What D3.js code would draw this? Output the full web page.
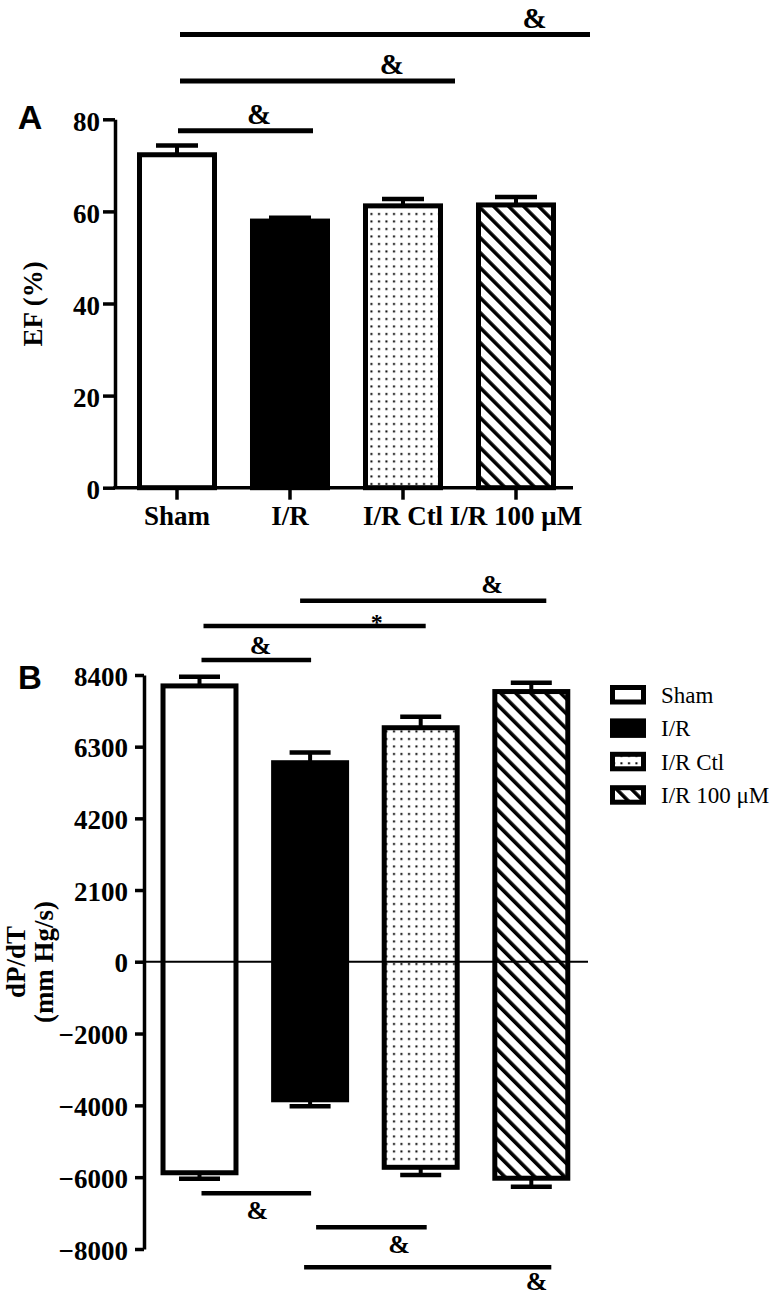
<!DOCTYPE html>
<html><head><meta charset="utf-8">
<script src="https://cdn.jsdelivr.net/npm/d3@7"></script>
<style>body{margin:0;background:#fff}svg{display:block}</style>
</head><body>
<svg id="chart" width="777" height="1295"></svg>
<script>
// ---------- data ----------
const categories = ["Sham", "I/R", "I/R Ctl", "I/R 100 μM"];
const efMean = [72.3, 57.9, 61.2, 61.4];
const efSem = [2.0, 0.7, 1.5, 1.7];
const efTicks = [0, 20, 40, 60, 80];
const dpPosMean = [8080, 5830, 6855, 7915];
const dpPosSem = [267, 300, 323, 257];
const dpNegMean = [-5877, -3845, -5725, -6029];
const dpNegSem = [170, 182, 215, 237];
const dpTicks = [8400, 6300, 4200, 2100, 0, -2000, -4000, -6000, -8000];
const fills = ["#fff", "#000", "url(#dots)", "url(#hatch)"];
const sigA = [
  {from: "Sham", to: "I/R 100 μM", y: 98.4, label: "&", at: 0.865, dx0: 3, dx1: 74},
  {from: "Sham", to: "I/R Ctl", y: 88.3, label: "&", at: 0.77, dx0: 3, dx1: 52},
  {from: "Sham", to: "I/R", y: 77.5, label: "&", at: 0.6, dx0: 1, dx1: 23}
];
const sigB = [
  {from: "I/R", to: "I/R 100 μM", y: 10576, label: "&", at: 0.78, dx0: -10, dx1: 15, ly: -8},
  {from: "Sham", to: "I/R Ctl", y: 9834, label: "*", at: 0.78, dx0: 4, dx1: 5, ly: 4},
  {from: "Sham", to: "I/R", y: 8838, label: "&", at: 0.54, dx0: 2, dx1: 1, ly: -6},
  {from: "Sham", to: "I/R", y: -6449, label: "&", at: 0.51, dx0: 2, dx1: 1, ly: 26},
  {from: "I/R", to: "I/R Ctl", y: -7396, label: "&", at: 0.75, dx0: 6, dx1: 6, ly: 26},
  {from: "I/R", to: "I/R 100 μM", y: -8510, label: "&", at: 0.94, dx0: -6, dx1: 20, ly: 23}
];

const SERIF = "'Liberation Serif','Times New Roman',serif";
const SANS = "'Liberation Sans',Arial,sans-serif";
const svg = d3.select("#chart");
svg.append("rect").attr("width", 777).attr("height", 1295).attr("fill", "#fff");

// ---------- patterns ----------
const defs = svg.append("defs");
const dots = defs.append("pattern").attr("id", "dots").attr("patternUnits", "userSpaceOnUse")
  .attr("width", 7.5).attr("height", 7.5);
dots.append("rect").attr("width", 7.5).attr("height", 7.5).attr("fill", "#fff");
dots.append("rect").attr("x", 3).attr("y", 3).attr("width", 2).attr("height", 2).attr("fill", "#000");
const hatch = defs.append("pattern").attr("id", "hatch").attr("patternUnits", "userSpaceOnUse")
  .attr("width", 10.6).attr("height", 10.6).attr("patternTransform", "rotate(-45)");
hatch.append("rect").attr("width", 10.6).attr("height", 10.6).attr("fill", "#fff");
hatch.append("rect").attr("x", 0).attr("width", 3.6).attr("height", 10.6).attr("fill", "#000");

const BW = 5; // bar border

// ================= Panel A =================
const xA = d3.scaleBand().domain(categories).range([120.5, 572.5]).paddingInner(0.292).paddingOuter(0.146);
const yA = d3.scaleLinear().domain([0, 80]).range([487.7, 119.3]);
const cA = c => xA(c) + xA.bandwidth() / 2;
const gA = svg.append("g");

gA.selectAll("rect.bar").data(categories).join("rect")
  .attr("x", c => xA(c) + BW / 2)
  .attr("width", xA.bandwidth() - BW)
  .attr("y", (c, i) => yA(efMean[i]))
  .attr("height", (c, i) => yA(0) - yA(efMean[i]))
  .attr("fill", (c, i) => fills[i]).attr("stroke", "#000").attr("stroke-width", BW);
categories.forEach((c, i) => {
  const top = yA(efMean[i] + efSem[i]);
  gA.append("line").attr("x1", cA(c)).attr("x2", cA(c)).attr("y1", yA(efMean[i])).attr("y2", top)
    .attr("stroke", "#000").attr("stroke-width", 4);
  gA.append("line").attr("x1", cA(c) - 21).attr("x2", cA(c) + 21).attr("y1", top).attr("y2", top)
    .attr("stroke", "#000").attr("stroke-width", 4.5);
});
const axA = gA.append("g").attr("transform", "translate(115,0)")
  .call(d3.axisLeft(yA).tickValues(efTicks).tickSize(12).tickSizeOuter(0).tickPadding(3));
axA.select(".domain").attr("stroke-width", 3.5);
axA.selectAll(".tick line").attr("stroke-width", 3.5);
axA.selectAll(".tick text").attr("font-family", SERIF).attr("font-weight", "bold")
  .attr("font-size", 27).attr("fill", "#000").attr("dy", "0.4em");
const axXA = gA.append("g").attr("transform", "translate(0,487.7)")
  .call(d3.axisBottom(xA).tickSize(12).tickSizeOuter(0).tickPadding(6));
axXA.select(".domain").remove();
axXA.append("line").attr("x1", 113.3).attr("x2", 573).attr("stroke", "#000").attr("stroke-width", 3.5);
axXA.selectAll(".tick line").attr("stroke-width", 3.5);
axXA.selectAll(".tick text").attr("font-family", SERIF).attr("font-weight", "bold")
  .attr("font-size", 27).attr("fill", "#000");
gA.append("text").attr("transform", "translate(42,304) rotate(-90)").attr("text-anchor", "middle")
  .attr("font-family", SERIF).attr("font-weight", "bold").attr("font-size", 27).text("EF (%)");
gA.append("text").attr("x", 30).attr("y", 129).attr("text-anchor", "middle")
  .attr("font-family", SANS).attr("font-weight", "bold").attr("font-size", 34).text("A");
sigA.forEach(s => {
  const x0 = cA(s.from) + s.dx0, x1 = cA(s.to) + s.dx1, y = yA(s.y);
  gA.append("line").attr("x1", x0).attr("x2", x1).attr("y1", y).attr("y2", y)
    .attr("stroke", "#000").attr("stroke-width", 5);
  gA.append("text").attr("x", x0 + (x1 - x0) * s.at).attr("y", y - 7).attr("text-anchor", "middle")
    .attr("font-family", SERIF).attr("font-weight", "bold").attr("font-size", 29).text(s.label);
});

// ================= Panel B =================
const xB = d3.scaleBand().domain(categories).range([144.2, 586.6]).paddingInner(0.295).paddingOuter(0.1475);
const yB = d3.scaleLinear().domain([-8000, 0, 8400]).range([1249, 961.7, 675]);
const cB = c => xB(c) + xB.bandwidth() / 2;
const gB = svg.append("g");

gB.selectAll("rect.bar").data(categories).join("rect")
  .attr("x", c => xB(c) + BW / 2)
  .attr("width", xB.bandwidth() - BW)
  .attr("y", (c, i) => yB(dpPosMean[i]))
  .attr("height", (c, i) => yB(dpNegMean[i]) - yB(dpPosMean[i]))
  .attr("fill", (c, i) => fills[i]).attr("stroke", "#000").attr("stroke-width", BW);
categories.forEach((c, i) => {
  const top = yB(dpPosMean[i] + dpPosSem[i]);
  const bot = yB(dpNegMean[i] - dpNegSem[i]);
  gB.append("line").attr("x1", cB(c)).attr("x2", cB(c)).attr("y1", yB(dpPosMean[i])).attr("y2", top)
    .attr("stroke", "#000").attr("stroke-width", 4);
  gB.append("line").attr("x1", cB(c) - 20.5).attr("x2", cB(c) + 20.5).attr("y1", top).attr("y2", top)
    .attr("stroke", "#000").attr("stroke-width", 4.5);
  gB.append("line").attr("x1", cB(c)).attr("x2", cB(c)).attr("y1", yB(dpNegMean[i])).attr("y2", bot)
    .attr("stroke", "#000").attr("stroke-width", 4);
  gB.append("line").attr("x1", cB(c) - 20.5).attr("x2", cB(c) + 20.5).attr("y1", bot).attr("y2", bot)
    .attr("stroke", "#000").attr("stroke-width", 4.5);
});
gB.append("line").attr("x1", 144).attr("x2", 588).attr("y1", yB(0)).attr("y2", yB(0))
  .attr("stroke", "#000").attr("stroke-width", 2);
const axB = gB.append("g").attr("transform", "translate(144,0)")
  .call(d3.axisLeft(yB).tickValues(dpTicks).tickFormat(d3.format("d")).tickSize(9).tickSizeOuter(0).tickPadding(7));
axB.select(".domain").attr("stroke-width", 3.5);
axB.selectAll(".tick line").attr("stroke-width", 3.5);
axB.selectAll(".tick text").attr("font-family", SERIF).attr("font-weight", "bold")
  .attr("font-size", 27).attr("fill", "#000").attr("dy", "0.38em");
gB.append("text").attr("transform", "translate(25,962) rotate(-90)").attr("text-anchor", "middle")
  .attr("font-family", SERIF).attr("font-weight", "bold").attr("font-size", 27).text("dP/dT");
gB.append("text").attr("transform", "translate(53,962) rotate(-90)").attr("text-anchor", "middle")
  .attr("font-family", SERIF).attr("font-weight", "bold").attr("font-size", 27).text("(mm Hg/s)");
gB.append("text").attr("x", 30).attr("y", 689).attr("text-anchor", "middle")
  .attr("font-family", SANS).attr("font-weight", "bold").attr("font-size", 33).text("B");
sigB.forEach(s => {
  const x0 = cB(s.from) + s.dx0, x1 = cB(s.to) + s.dx1, y = yB(s.y);
  gB.append("line").attr("x1", x0).attr("x2", x1).attr("y1", y).attr("y2", y)
    .attr("stroke", "#000").attr("stroke-width", 4.5);
  gB.append("text").attr("x", x0 + (x1 - x0) * s.at).attr("y", y + s.ly).attr("text-anchor", "middle")
    .attr("font-family", SERIF).attr("font-weight", "bold").attr("font-size", s.label === "*" ? 24 : 26).text(s.label);
});
const leg = gB.append("g").attr("transform", "translate(610,685)");
categories.forEach((c, i) => {
  const g = leg.append("g").attr("transform", `translate(0,${i * 33.4})`);
  g.append("rect").attr("x", 2.5).attr("y", 2.5).attr("width", 31).attr("height", 14.5)
    .attr("fill", fills[i]).attr("stroke", "#000").attr("stroke-width", 5);
  g.append("text").attr("x", 51).attr("y", 18).attr("font-family", SERIF).attr("font-size", 23).text(c);
});
</script>
</body></html>
